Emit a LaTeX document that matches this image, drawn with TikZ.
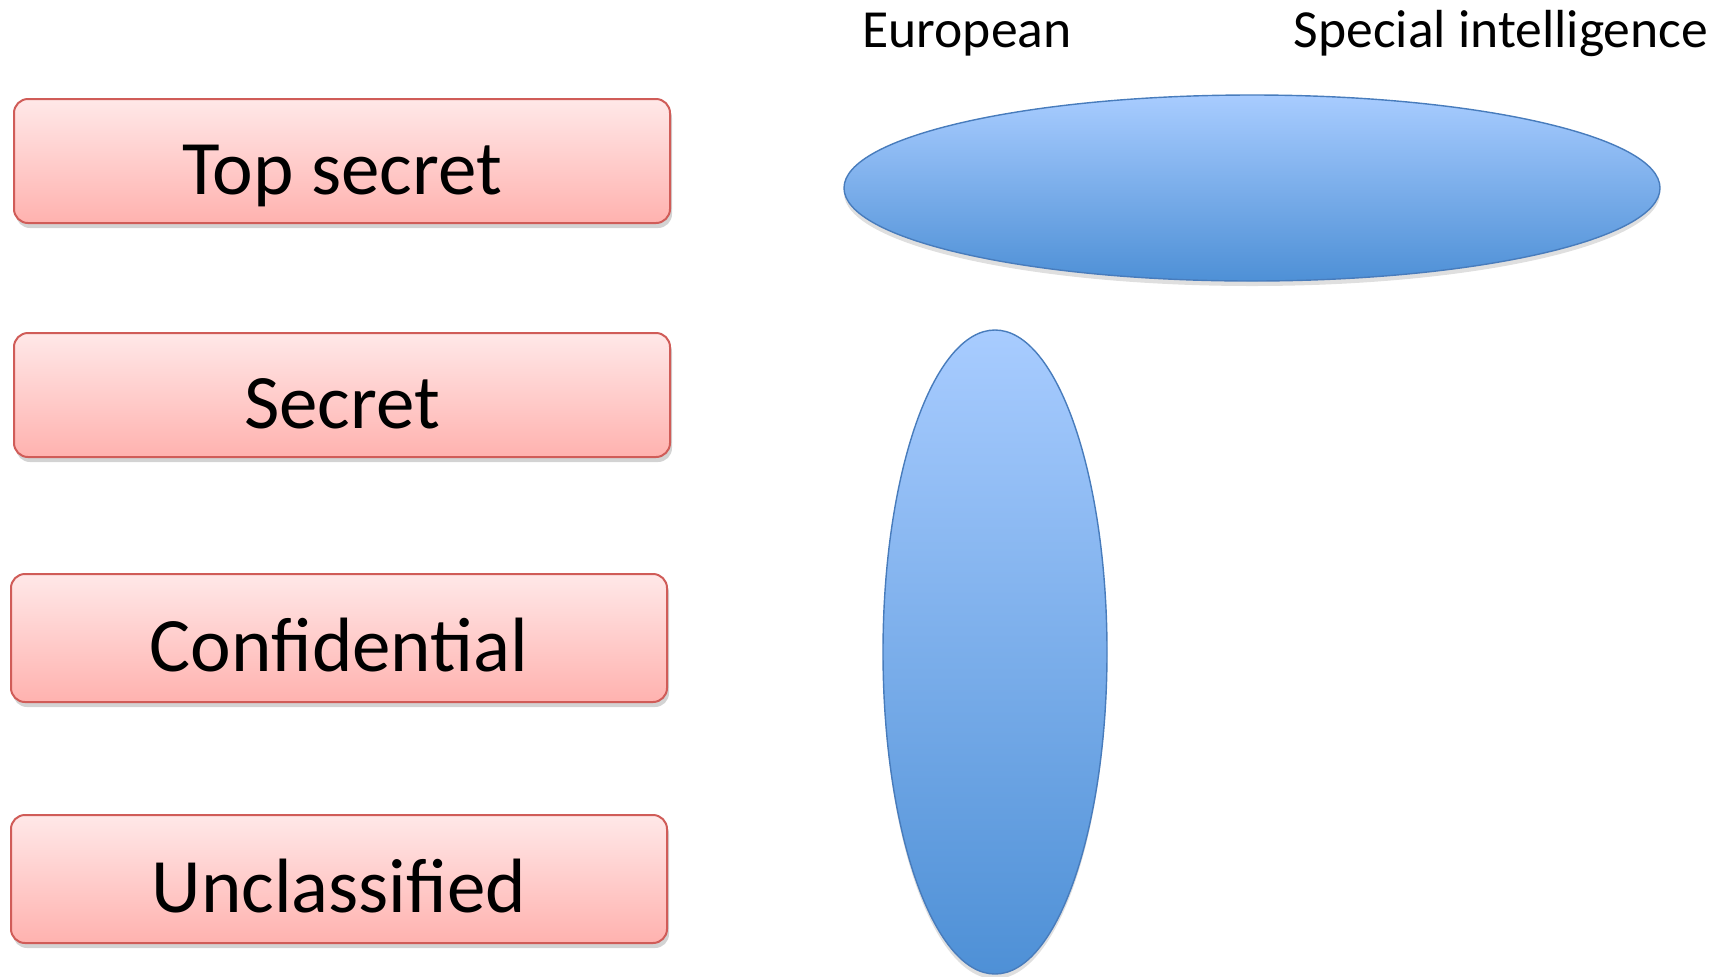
\documentclass[tikz,border=0pt]{standalone}
\usepackage{fontspec}
\setmainfont{Carlito}
\usetikzlibrary{shapes.geometric,shadows}
\definecolor{PinkTop}{RGB}{255,232,232}
\definecolor{PinkBottom}{RGB}{255,178,175}
\definecolor{RedEdge}{RGB}{208,92,88}
\definecolor{SkyTop}{RGB}{168,204,255}
\definecolor{SkyBottom}{RGB}{78,144,214}
\definecolor{BlueEdge}{RGB}{72,124,188}
\tikzset{
  level/.style={draw=RedEdge,line width=1pt,rounded corners=7pt,top color=PinkTop,bottom color=PinkBottom,
    minimum width=328pt,minimum height=62pt,inner sep=0pt,font=\fontsize{38.5}{46}\selectfont,
    text height=35.6pt,text depth=2pt,drop shadow={opacity=0.35,shadow xshift=1pt,shadow yshift=-2.5pt}},
  compartment/.style={ellipse,draw=BlueEdge,line width=0.7pt,top color=SkyTop,bottom color=SkyBottom,inner sep=0pt,
    drop shadow={opacity=0.25,shadow xshift=0pt,shadow yshift=-2.5pt}},
  heading/.style={anchor=base,font=\fontsize{26.8}{32}\selectfont,inner sep=0pt}
}
\begin{document}
\begin{tikzpicture}[x=0.5pt,y=-0.5pt]
\useasboundingbox (0,0) rectangle (1729,976);

\node[level] (topsecret) at (342,161) {Top secret};
\node[level] (secret) at (342,395) {Secret};
\node[level,minimum height=64pt] (confidential) at (339,638) {Confidential};
\node[level,minimum height=64pt] (unclassified) at (339,879) {Unclassified};

\node[compartment,minimum width=408pt,minimum height=93pt] (special) at (1252,188) {};
\node[compartment,minimum width=112pt,minimum height=322pt] (european) at (995,652) {};

\node[heading] (europeanlabel) at (967,47) {European};
\node[heading] (speciallabel) at (1501,47) {Special intelligence};
\end{tikzpicture}
\end{document}
